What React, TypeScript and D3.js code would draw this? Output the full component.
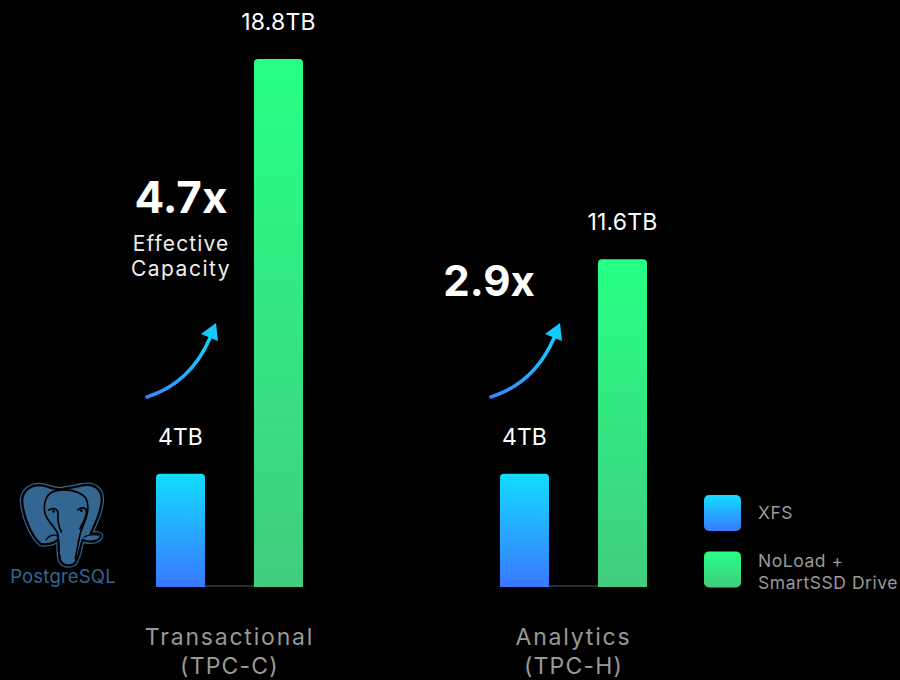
import React from "react";
import * as d3 from "d3";

const categories = ["Transactional", "Analytics"];
const subLabels = ["(TPC-C)", "(TPC-H)"];
const xfsValues = [4.03, 4.03];
const smartValues = [18.8, 11.67];
const xfsLabels = ["4TB", "4TB"];
const smartLabels = ["18.8TB", "11.6TB"];
const multipliers = ["4.7x", "2.9x"];
const legendItems = ["XFS", "NoLoad +|SmartSSD Drive"];

const W = 900, H = 680;
const y = d3.scaleLinear().domain([0, 18.8]).range([587, 59]);
const groupX = d3.scalePoint<string>().domain(categories).range([156, 500]);
const BAR = 49, STEP = 98;
const font = "Inter, 'Open Sans', sans-serif";

function topRoundedBar(x: number, top: number, w: number, bottom: number, r: number) {
  const p = d3.path();
  p.moveTo(x, bottom);
  p.lineTo(x, top + r);
  p.quadraticCurveTo(x, top, x + r, top);
  p.lineTo(x + w - r, top);
  p.quadraticCurveTo(x + w, top, x + w, top + r);
  p.lineTo(x + w, bottom);
  p.closePath();
  return p.toString();
}

const silhouette =
  "M180 88 C200 84 225 82 245 76 C285 68 308 90 305 125 C302 165 282 195 272 222 C285 218 303 220 303 228 C298 244 272 250 248 240 C240 262 238 285 230 300 C222 322 190 322 180 300 C174 280 178 255 174 238 C165 250 140 255 122 252 C98 232 72 180 67 130 C62 88 100 68 135 78 C150 82 165 88 180 88 Z";

function Elephant() {
  const blue = "#336791";
  return (
    <g>
      <g transform="translate(0,460) scale(0.3333)" strokeLinejoin="round" strokeLinecap="round">
        <path d={silhouette} fill="none" stroke={blue} strokeWidth={14} />
        <path d={silhouette} fill={blue} stroke="#000" strokeWidth={7} />
        <path d="M135 160 C128 125 140 98 170 92 C200 86 240 92 258 115 C270 140 262 170 248 200 C236 226 234 262 226 296 M135 160 C142 185 160 195 172 218 C178 240 174 275 180 298" fill="none" stroke="#000" strokeWidth={5} />
        <path d="M138 240 C150 222 170 222 176 232 M252 232 C262 224 285 222 296 226" fill="none" stroke="#000" strokeWidth={3.5} />
        <path d="M146 150 C160 142 172 146 174 156 C172 180 176 200 184 216 M234 150 C244 140 258 142 260 154 C258 175 248 190 240 206" fill="none" stroke="#000" strokeWidth={5} />
        <circle cx={161} cy={154} r={4} fill="#000" />
        <circle cx={244} cy={152} r={4} fill="#000" />
      </g>
      <text x={63} y={583} textAnchor="middle" fontFamily={font} fontSize={18.5} letterSpacing={0.2} fill={blue}>PostgreSQL</text>
    </g>
  );
}

export default function App() {
  const bottom = y(0);
  return (
    <svg width={W} height={H} viewBox={`0 0 ${W} ${H}`} style={{ position: "fixed", left: 0, top: 0, background: "#000" }}>
      <defs>
        <linearGradient id="gBlue" x1="0" y1="0" x2="0" y2="1">
          <stop offset="0" stopColor="#12dcff" />
          <stop offset="1" stopColor="#3a78ff" />
        </linearGradient>
        <linearGradient id="gGreen" x1="0" y1="0" x2="0" y2="1">
          <stop offset="0" stopColor="#27ff85" />
          <stop offset="1" stopColor="#41cd7e" />
        </linearGradient>
        <linearGradient id="gArrow" x1="0" y1="1" x2="1" y2="0">
          <stop offset="0" stopColor="#3a84ff" />
          <stop offset="1" stopColor="#12d0ff" />
        </linearGradient>
      </defs>
      <rect width={W} height={H} fill="#000" />
      <Elephant />
      {categories.map((c, i) => {
        const x0 = groupX(c)!;
        const x1 = x0 + STEP;
        const cx = (x0 + x1 + BAR) / 2;
        const ax = x0 - 9;
        return (
          <g key={c}>
            <line x1={x0 + BAR} x2={x1} y1={bottom - 1} y2={bottom - 1} stroke="#3a3a3a" strokeWidth={1.5} />
            <path d={topRoundedBar(x0, y(xfsValues[i]), BAR, bottom, 4)} fill="url(#gBlue)" />
            <path d={topRoundedBar(x1, y(smartValues[i]), BAR, bottom, 4)} fill="url(#gGreen)" />
            <text x={x0 + BAR / 2} y={y(xfsValues[i]) - 29} textAnchor="middle" fontFamily={font} fontSize={23} fill="#fff">{xfsLabels[i]}</text>
            <text x={x1 + BAR / 2} y={y(smartValues[i]) - 29} textAnchor="middle" fontFamily={font} fontSize={23} letterSpacing={0.2} fill="#fff">{smartLabels[i]}</text>
            <text x={cx} y={645} textAnchor="middle" fontFamily={font} fontSize={23} letterSpacing={1.8} fill="#999">{c}</text>
            <text x={cx} y={674} textAnchor="middle" fontFamily={font} fontSize={23} letterSpacing={1.2} fill="#999">{subLabels[i]}</text>
            <g transform={`translate(${ax},0)`}>
              <path d="M0 397 C28 388 50 368 63 338" fill="none" stroke="url(#gArrow)" strokeWidth={3.5} strokeLinecap="round" />
              <path d="M69 323 L54 334 L71 341 Z" fill="#12ccff" />
            </g>
          </g>
        );
      })}
      <text x={181} y={213} textAnchor="middle" fontFamily={font} fontSize={44} fontWeight={700} fill="#fff">{multipliers[0]}</text>
      <text x={489} y={296} textAnchor="middle" fontFamily={font} fontSize={42} fontWeight={700} fill="#fff">{multipliers[1]}</text>
      <text x={181} y={251} textAnchor="middle" fontFamily={font} fontSize={21} letterSpacing={1.1} fill="#eee">Effective</text>
      <text x={181} y={276} textAnchor="middle" fontFamily={font} fontSize={21} letterSpacing={1.5} fill="#eee">Capacity</text>
      {legendItems.map((t, i) => {
        const ly = 495 + i * 56.5;
        const lines = t.split("|");
        return (
          <g key={t}>
            <rect x={704} y={ly} width={37} height={36} rx={5} fill={i === 0 ? "url(#gBlue)" : "url(#gGreen)"} />
            {lines.map((l, j) => (
              <text key={l} x={758} y={lines.length === 1 ? ly + 24 : ly + 15 + j * 22} fontFamily={font} fontSize={17.5} letterSpacing={0.55} fill="#999">{l}</text>
            ))}
          </g>
        );
      })}
    </svg>
  );
}
